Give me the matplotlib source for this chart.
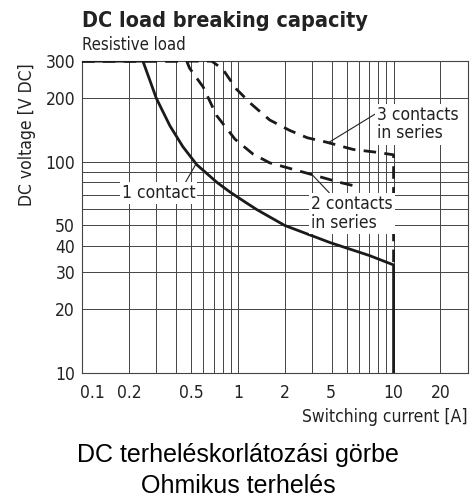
import numpy as np
import matplotlib
matplotlib.use('Agg')
import matplotlib.pyplot as plt
from matplotlib import font_manager as fm
from matplotlib.transforms import ScaledTranslation

# curve data: switching current [A] vs DC voltage [V]
i_1 = [0.1, 0.246, 0.3, 0.367, 0.444, 0.545, 0.734, 0.89, 1.08, 1.32, 2.0, 3.9, 7.0, 10.0, 10.0]
v_1 = [300, 300, 200, 148, 118, 97, 80, 72, 65.5, 59.5, 50, 41.5, 36, 32.5, 10]

i_2 = [0.1, 0.47, 0.49, 0.6, 0.73, 0.96, 1.25, 1.6, 3.0, 4.5, 6.0]
v_2 = [300, 300, 278, 226, 166, 128, 109, 99, 87, 80, 76]

i_3 = [0.1, 0.68, 0.8, 0.98, 1.23, 1.6, 2.15, 2.8, 3.7, 5.5, 7.8, 10.0, 10.0]
v_3 = [300, 300, 275, 221, 187, 158, 141, 130, 124, 114.5, 111, 108, 32.5]

x_ticks = [0.1, 0.2, 0.5, 1, 2, 5, 10, 20]
x_labels = ['0.1', '0.2', '0.5', '1', '2', '5', '10', '20']
y_ticks = [10, 20, 30, 40, 50, 100, 200, 300]
y_labels = ['10', '20', '30', '40', '50', '100', '200', '300']
x_grid = [0.2, 0.3, 0.4, 0.5, 0.6, 0.7, 0.8, 0.9, 1, 2, 3, 4, 5, 6, 7, 8, 9, 10, 20]
y_grid = [20, 30, 40, 50, 60, 70, 80, 90, 100, 200]

# look for a condensed face, the chart uses a narrow grotesque
names = {f.name: f for f in fm.fontManager.ttflist}
stretch = 'normal'
if 'Liberation Sans Narrow' in names:
    narrow = ['Liberation Sans Narrow', 'DejaVu Sans']
elif any(f.name == 'DejaVu Sans' and f.stretch == 'condensed' for f in fm.fontManager.ttflist):
    narrow = ['DejaVu Sans']
    stretch = 'condensed'
else:
    narrow = ['Liberation Sans', 'DejaVu Sans']

fig = plt.figure(figsize=(4.76, 4.97), dpi=100)
ax = fig.add_axes([0.1723, 0.2495, 0.8107, 0.6275])
ax.set_xscale('log')
ax.set_yscale('log')
ax.set_xlim(0.1, 30)
ax.set_ylim(10, 300)

for g in x_grid:
    ax.axvline(g, color='#444444', lw=0.7, zorder=1)
for g in y_grid:
    ax.axhline(g, color='#444444', lw=0.7, zorder=1)
for s in ax.spines.values():
    s.set_color('#444444')
    s.set_linewidth(0.8)

ax.plot(i_3, v_3, color='#1a1a1a', lw=2.0, dashes=(4.5, 3), zorder=3)
ax.plot(i_2, v_2, color='#1a1a1a', lw=2.0, dashes=(4.5, 3), zorder=3)
ax.plot(i_1, v_1, color='#1a1a1a', lw=2.0, zorder=4, solid_joinstyle='round')

ax.set_xticks(x_ticks)
ax.set_xticklabels(x_labels)
ax.set_yticks(y_ticks)
ax.set_yticklabels(y_labels)
ax.minorticks_off()
ax.tick_params(length=0, labelsize=12.5)
ax.tick_params(axis='x', pad=8)
ax.tick_params(axis='y', pad=5)
for lab in ax.get_xticklabels() + ax.get_yticklabels():
    lab.set_family(narrow)
    lab.set_fontstretch(stretch)
    lab.set_color('#222222')
# the printed chart has a couple of labels shifted off their grid line
shifts = {'0.1': 10, '5': -16}
for lab in ax.get_xticklabels():
    dx = shifts.get(lab.get_text(), 0)
    if dx:
        lab.set_transform(lab.get_transform() + ScaledTranslation(dx / 100, 0, fig.dpi_scale_trans))

txt = dict(family=narrow, fontstretch=stretch, color='#222222')
ax.set_ylabel('DC voltage [V DC]', fontsize=12.5, **txt)
ax.yaxis.set_label_coords(-0.12, 0.765)
ax.set_xlabel('Switching current [A]', fontsize=12.5, **txt)
ax.xaxis.set_label_coords(1.0, -0.112)
ax.xaxis.label.set_ha('right')

box = dict(facecolor='white', edgecolor='none', pad=1.5)
ax.annotate('1 contact', xy=(0.54, 98), xytext=(0.31, 71), textcoords='data',
            ha='center', va='center', fontsize=12.5, bbox=box, zorder=5, **txt,
            arrowprops=dict(arrowstyle='-', lw=0.8, color='#222222', relpos=(0.85, 1.0),
                            shrinkA=0, shrinkB=0))
ax.annotate('2 contacts\nin series', xy=(3.0, 87), xytext=(2.95, 57), textcoords='data',
            ha='left', va='center', fontsize=12.5, linespacing=1.05, bbox=box, zorder=5, **txt,
            arrowprops=dict(arrowstyle='-', lw=0.8, color='#222222', relpos=(0.25, 1.0),
                            shrinkA=0, shrinkB=0))
ax.annotate('3 contacts\nin series', xy=(3.8, 123), xytext=(7.8, 151), textcoords='data',
            ha='left', va='center', fontsize=12.5, linespacing=1.05, bbox=box, zorder=5, **txt,
            arrowprops=dict(arrowstyle='-', lw=0.8, color='#222222', relpos=(0.0, 0.8),
                            shrinkA=0, shrinkB=0))

fig.text(0.1723, 0.9457, 'DC load breaking capacity', fontsize=15.5,
         fontweight='bold', ha='left', va='baseline', **txt)
fig.text(0.1723, 0.899, 'Resistive load', fontsize=12,
         ha='left', va='baseline', **txt)

fig.text(0.5, 0.0704, 'DC terheléskorlátozási görbe', family=['Liberation Sans', 'DejaVu Sans'],
         fontsize=18, color='black', ha='center', va='baseline')
fig.text(0.5, 0.009, 'Ohmikus terhelés', family=['Liberation Sans', 'DejaVu Sans'],
         fontsize=18, color='black', ha='center', va='baseline')

fig.savefig('out.png', dpi=100)
